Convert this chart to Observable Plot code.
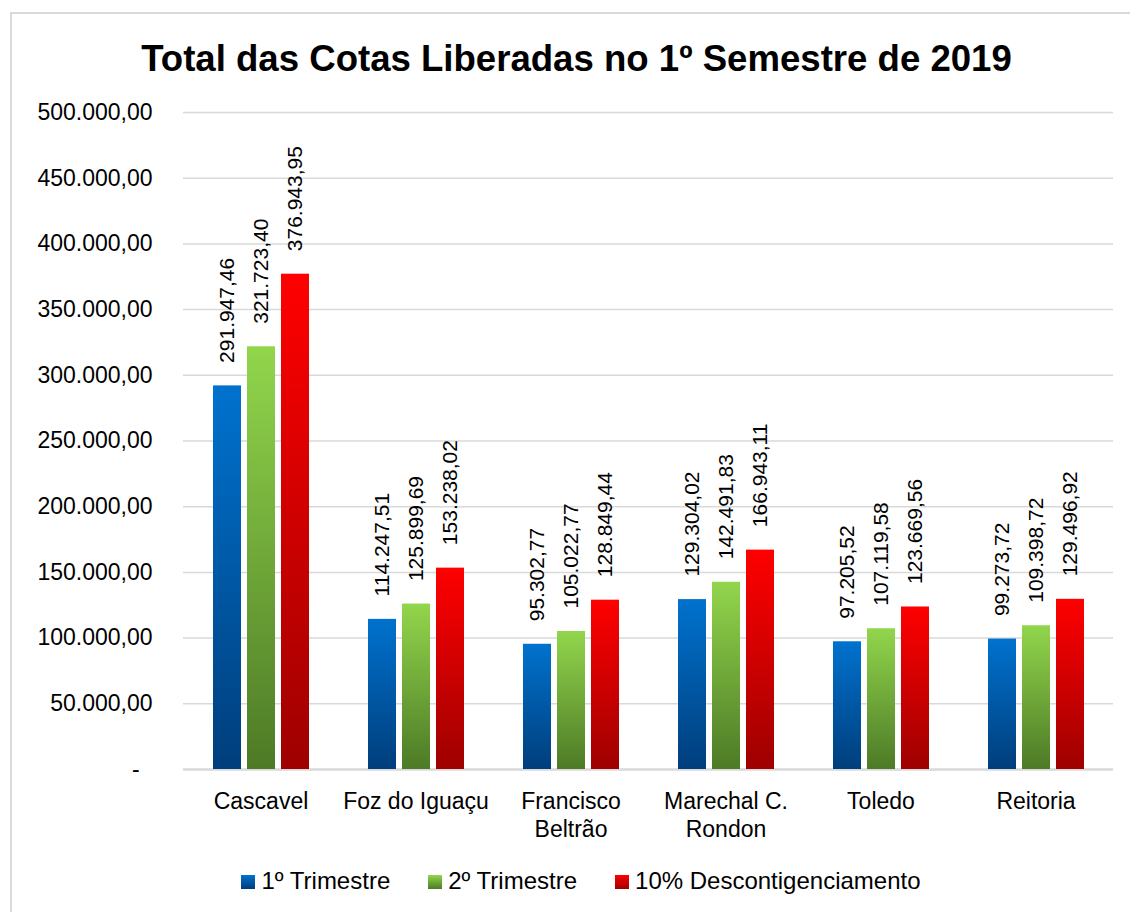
<!DOCTYPE html>
<html>
<head>
<meta charset="utf-8">
<script src="https://cdn.jsdelivr.net/npm/d3@7"></script>
<script src="https://cdn.jsdelivr.net/npm/@observablehq/plot@0.6"></script>
<style>
  html, body { margin: 0; padding: 0; background: #fff; }
  #wrap { position: relative; width: 1130px; height: 912px; overflow: hidden; font-family: "Liberation Sans", Arial, sans-serif; color: #000; }
  #frame { position: absolute; left: 10px; top: 12px; width: 1130px; height: 912px; border-top: 2px solid #d9d9d9; border-left: 2px solid #d9d9d9; box-sizing: border-box; }
  #title { position: absolute; top: 40px; left: 0; width: 1153px; text-align: center; font-weight: bold; font-size: 36.6px; line-height: 37px; white-space: nowrap; }
  #chart { position: absolute; top: 90px; left: 0; }
  #legend { position: absolute; top: 867px; left: 0; width: 1162px; text-align: center; font-size: 24px; line-height: 28px; white-space: nowrap; }
  .item { display: inline-block; margin: 0 19px; }
  .sw { display: inline-block; width: 14px; height: 14px; margin-right: 6px; vertical-align: baseline; }
</style>
</head>
<body>
<div id="wrap">
  <div id="frame"></div>
  <div id="title">Total das Cotas Liberadas no 1º Semestre de 2019</div>
  <div id="chart"></div>
  <div id="legend"></div>
</div>
<script>
// ---- Data ----
const categories = ["Cascavel", "Foz do Iguaçu", "Francisco\nBeltrão", "Marechal C.\nRondon", "Toledo", "Reitoria"];
const series = ["1º Trimestre", "2º Trimestre", "10% Descontigenciamento"];
const trimestre1 = [291947.46, 114247.51, 95302.77, 129304.02, 97205.52, 99273.72];
const trimestre2 = [321723.40, 125899.69, 105022.77, 142491.83, 107119.58, 109398.72];
const descontig = [376943.95, 153238.02, 128849.44, 166943.11, 123669.56, 129496.92];
const yTicks = [0, 50000, 100000, 150000, 200000, 250000, 300000, 350000, 400000, 450000, 500000];

// ---- Styles ----
const gradients = [
  {id: "gB", top: "#0072ce", bottom: "#003e7c"},
  {id: "gG", top: "#92d64c", bottom: "#4d7a26"},
  {id: "gR", top: "#ff0000", bottom: "#9e0000"}
];

const seriesValues = [trimestre1, trimestre2, descontig];
const rows = categories.flatMap((c, i) => series.map((s, j) => ({cat: c, series: s, value: seriesValues[j][i]})));

const locale = d3.formatLocale({decimal: ",", thousands: ".", grouping: [3], currency: ["R$", ""]});
const fmt = locale.format(",.2f");
const yFmt = d => d === 0 ? "-\u2007" : fmt(d);

const chart = Plot.plot({
  width: 1130,
  height: 770,
  marginTop: 22,
  marginBottom: 91,
  marginLeft: 182,
  marginRight: 16,
  style: {fontFamily: "Liberation Sans, Arial, sans-serif", fontSize: "23px", color: "#000", background: "transparent"},
  fx: {domain: categories, paddingInner: 0, paddingOuter: 0, label: null, axis: null},
  x: {domain: series, paddingInner: 0.18, paddingOuter: 0.84, axis: null},
  y: {domain: [0, 500000], axis: null},
  color: {domain: series, range: gradients.map(g => `url(#${g.id})`)},
  marks: [
    Plot.ruleY(yTicks.filter(d => d > 0), {y: d => d, stroke: "#d9d9d9", strokeWidth: 1.5}),
    Plot.ruleY([0], {y: d => d, stroke: "#d9d9d9", strokeWidth: 2.5}),
    Plot.axisY({ticks: yTicks, tickFormat: yFmt, tickSize: 0, tickPadding: 31, fontSize: 23, fill: "#000", label: null}),
    Plot.barY(rows, {fx: "cat", x: "series", y: "value", fill: "series"}),
    Plot.text(rows, {fx: "cat", x: "series", y: "value", text: d => fmt(d.value), rotate: -90, textAnchor: "start", lineAnchor: "middle", dy: -23, fontSize: 21, fill: "#000"}),
    Plot.axisFx({anchor: "bottom", tickSize: 0, tickPadding: 20, fontSize: 23, lineHeight: 1.2, label: null, fill: "#000"})
  ]
});

const svg = chart.tagName.toLowerCase() === "svg" ? chart : chart.querySelector("svg");
const NS = "http://www.w3.org/2000/svg";
const defs = document.createElementNS(NS, "defs");
for (const g of gradients) {
  const lg = document.createElementNS(NS, "linearGradient");
  lg.setAttribute("id", g.id);
  lg.setAttribute("x1", "0"); lg.setAttribute("y1", "0");
  lg.setAttribute("x2", "0"); lg.setAttribute("y2", "1");
  const s1 = document.createElementNS(NS, "stop");
  s1.setAttribute("offset", "0"); s1.setAttribute("stop-color", g.top);
  const s2 = document.createElementNS(NS, "stop");
  s2.setAttribute("offset", "1"); s2.setAttribute("stop-color", g.bottom);
  lg.appendChild(s1); lg.appendChild(s2);
  defs.appendChild(lg);
}
svg.insertBefore(defs, svg.firstChild);
document.getElementById("chart").appendChild(chart);

// Legend
const legend = document.getElementById("legend");
series.forEach((s, i) => {
  const g = gradients[i];
  const item = document.createElement("span");
  item.className = "item";
  const sw = document.createElement("span");
  sw.className = "sw";
  sw.style.background = `linear-gradient(${g.top}, ${g.bottom})`;
  item.appendChild(sw);
  item.appendChild(document.createTextNode(s));
  legend.appendChild(item);
});
</script>
</body>
</html>
